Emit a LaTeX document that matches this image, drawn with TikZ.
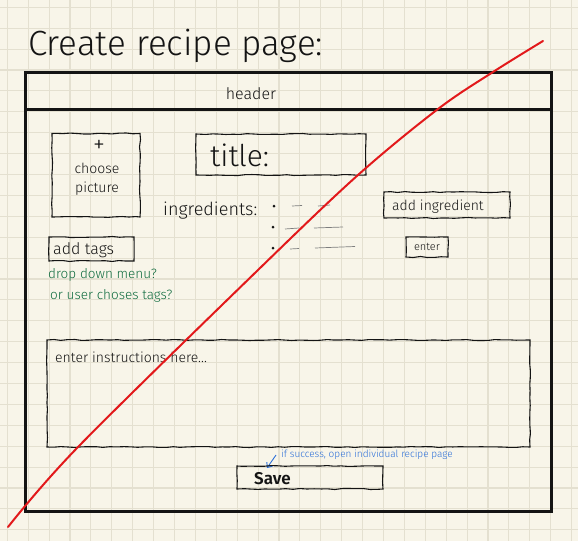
\documentclass[tikz,border=0pt]{standalone}
\usepackage{fontspec}
\setmainfont{Fira Sans Light}
\usetikzlibrary{arrows.meta,decorations.pathmorphing}
\definecolor{paper}{HTML}{F8F5E9}
\definecolor{gridc}{HTML}{E4E0D0}
\definecolor{redline}{HTML}{E2191B}
\definecolor{greentxt}{HTML}{0F6B3E}
\definecolor{bluetxt}{HTML}{2A6ED8}
\definecolor{ink}{HTML}{141414}
\tikzset{
  frame/.style={draw=ink, line width=3pt},
  sketch/.style={draw=ink, line width=1.1pt, decorate,
     decoration={random steps, segment length=7pt, amplitude=0.5pt}},
  faint/.style={draw=ink!55, line width=0.7pt},
  txt/.style={inner sep=0pt, text=ink, anchor=base west},
  fs/.style={font=\fontsize{#1}{#1}\selectfont},
}
\begin{document}
\begin{tikzpicture}[x=1pt, y=-1pt]
\pgfmathsetseed{7}
\useasboundingbox (0,0) rectangle (578,541);
\fill[paper] (0,0) rectangle (578,541);
\foreach \i in {0,...,27} \draw[gridc, line width=1.1pt] ({7.3+\i*20.9},0) -- ++(0,541);
\foreach \j in {0,...,25} \draw[gridc, line width=1.1pt] (0,{7.3+\j*20.9}) -- ++(578,0);

% title
\node[txt, fs=35] (ttl) at (28,55) {Create recipe page:};

% main frame
\draw[frame] (25,72) rectangle (551.5,511);
\draw[frame] (25,109.5) -- (552.5,109.5);
\node[fs=16, inner sep=0pt, text=ink] (hdr) at (251,94) {header};

% picture box
\draw[sketch] (52,133.5) rectangle (140,217);
\node[fs=24, inner sep=0pt, text=ink] (plus) at (99,146) {+};
\node[fs=14, inner sep=0pt, text=ink] (choose) at (97,168) {choose};
\node[fs=14, inner sep=0pt, text=ink] (picture) at (97,189) {picture};

% title box
\draw[sketch] (196,134) rectangle (366,175);
\node[txt, fs=30] (titlelbl) at (210,166) {title:};

% ingredients
\node[txt, fs=18] (ingr) at (163,215) {ingredients:};
\fill[ink] (274,206) circle (1.5pt) coordinate (b1);
\fill[ink] (273,227) circle (1.5pt) coordinate (b2);
\fill[ink] (273,248) circle (1.5pt) coordinate (b3);
\draw[faint] (292,206) -- (302,205.5);
\draw[faint] (318,206) -- (330,205);
\draw[faint] (285,229) -- (299,228);
\draw[faint] (314,228) -- (343,227);
\draw[faint] (290,249) -- (299,248.5);
\draw[faint] (315,248) -- (355,246.5);

% add ingredient
\draw[sketch] (384,192) rectangle (510,218);
\node[txt, fs=14] (addingr) at (392,210) {add ingredient};
% enter
\draw[sketch] (406,237) rectangle (448,257);
\node[fs=11, inner sep=0pt, text=ink] (enter) at (427,247) {enter};

% add tags
\draw[sketch] (49,237) rectangle (134,261);
\node[txt, fs=16] (addtags) at (53,254) {add tags};
\node[txt, fs=13.5, text=greentxt] (g1) at (48,278) {drop down menu?};
\node[txt, fs=13.5, text=greentxt] (g2) at (50,299) {or user choses tags?};

% instructions
\draw[sketch] (47,340) rectangle (530,447);
\node[txt, fs=14] (instr) at (55,362) {enter instructions here...};

% save
\node[txt, fs=10, text=bluetxt] (note) at (281,457) {if success, open individual recipe page};
\coordinate (ar1) at (276,455);
\coordinate (ar2) at (267,468);
\draw[bluetxt, line width=0.9pt, -{Straight Barb[length=4pt,width=7pt]}] (ar1) -- (ar2);
\draw[sketch] (237,466) rectangle (383,489);
\node[txt, fs=17] (save) at (254,484) {\textbf{Save}};

% red strike
\draw[redline, line width=2pt, line cap=round]
  plot[smooth, tension=0.55] coordinates {(8,527) (78,447) (258,270) (358,175) (438,109) (493,72) (543,41)};
\end{tikzpicture}
\end{document}
